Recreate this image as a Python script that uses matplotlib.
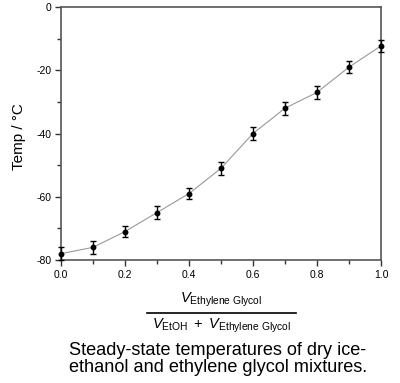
import matplotlib
matplotlib.use("Agg")
import matplotlib.pyplot as plt
from matplotlib.ticker import MultipleLocator, FormatStrFormatter
from matplotlib.lines import Line2D

plt.rcParams['font.family'] = ['Liberation Sans', 'DejaVu Sans']
plt.rcParams['mathtext.fontset'] = 'custom'
plt.rcParams['mathtext.rm'] = 'Liberation Sans'
plt.rcParams['mathtext.it'] = 'Liberation Sans:italic'
plt.rcParams['axes.unicode_minus'] = False

fraction = [0.0, 0.1, 0.2, 0.3, 0.4, 0.5, 0.6, 0.7, 0.8, 0.9, 1.0]
temp = [-78, -76, -71, -65, -59, -51, -40, -32, -27, -19, -12.3]
err = [2, 2, 1.8, 2, 1.8, 2, 2, 2, 2, 2, 2]

fig = plt.figure(figsize=(4.0, 3.83), dpi=100)
ax = fig.add_axes([61/400, 1-260/383, 320/400, 253/383])

ax.plot(fraction, temp, color='#999999', lw=0.8, zorder=1)
ax.errorbar(fraction, temp, yerr=err, fmt='o', color='black', ms=3.2,
            capsize=2.5, elinewidth=1, capthick=1, zorder=3, clip_on=False)

ax.set_xlim(0, 1.0)
ax.set_ylim(-80, 0)
ax.xaxis.set_major_locator(MultipleLocator(0.2))
ax.xaxis.set_minor_locator(MultipleLocator(0.1))
ax.yaxis.set_major_locator(MultipleLocator(20))
ax.yaxis.set_minor_locator(MultipleLocator(10))
ax.xaxis.set_major_formatter(FormatStrFormatter('%.1f'))
ax.tick_params(which='major', direction='out', length=4, width=1, labelsize=7.5, pad=3,
               colors='#333333', labelcolor='black')
ax.tick_params(which='minor', direction='out', length=3, width=1, colors='#333333')
for s in ax.spines.values():
    s.set_color('#555555')
    s.set_linewidth(1.2)

fig.text(19/400, 1-137/383, 'Temp / °C', rotation=90, ha='center', va='center', fontsize=11)

# fraction x-label
fig.text(221/400, 1-300/383, r'$\mathit{V}_{\mathrm{Ethylene\ Glycol}}$', ha='center', va='center', fontsize=10.5)
fig.add_artist(Line2D([147/400, 296/400], [1-313/383, 1-313/383], color='black', lw=1.2,
                      transform=fig.transFigure))
fig.text(222/400, 1-326/383, r'$\mathit{V}_{\mathrm{EtOH}}\mathrm{\ +\ }\mathit{V}_{\mathrm{Ethylene\ Glycol}}$',
         ha='center', va='center', fontsize=10.5)

fig.text(218/400, 1-359/383, 'Steady-state temperatures of dry ice-\nethanol and ethylene glycol mixtures.',
         ha='center', va='center', fontsize=13.1, linespacing=0.98)

fig.savefig('out.png', dpi=100)
